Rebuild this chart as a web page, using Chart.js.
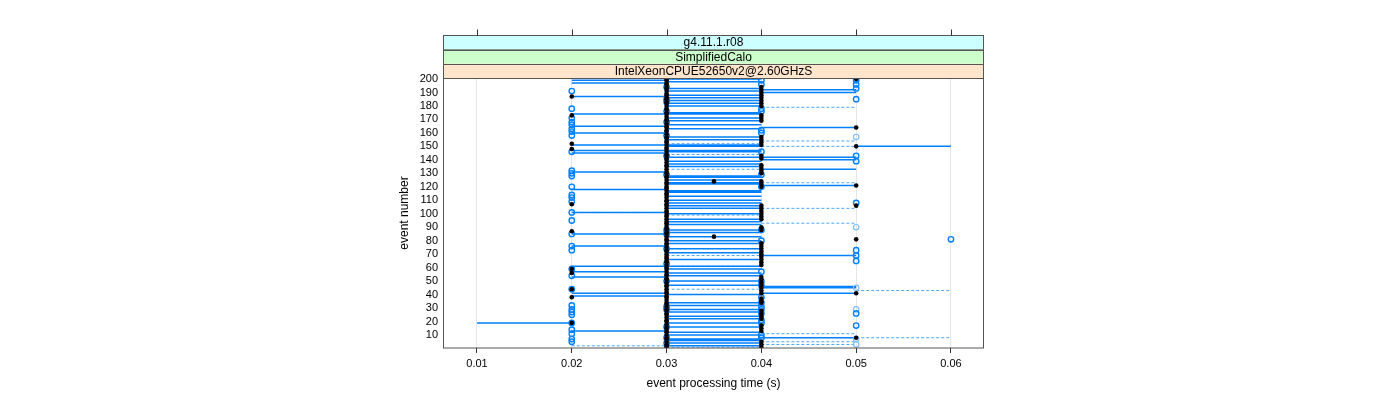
<!DOCTYPE html>
<html><head><meta charset="utf-8">
<script src="https://cdn.jsdelivr.net/npm/chart.js@4.4.1/dist/chart.umd.min.js"></script>
<style>html,body{margin:0;padding:0;background:#fff}canvas{display:block}</style>
</head><body>
<canvas id="c" width="1400" height="400"></canvas>
<script>
// ---- labels ----
const stripLabels = ["g4.11.1.r08", "SimplifiedCalo", "IntelXeonCPUE52650v2@2.60GHzS"];
const xTickValues = [0.01, 0.02, 0.03, 0.04, 0.05, 0.06];
const yTickValues = [10, 20, 30, 40, 50, 60, 70, 80, 90, 100, 110, 120, 130, 140, 150, 160, 170, 180, 190, 200];
const xTitle = "event processing time (s)";
const yTitle = "event number";

// ---- solid horizontal ranges (event numbers per time span) ----
const solid_01_02 = [19];
const solid_02_03 = [199, 197, 187, 174, 165, 160, 151, 147, 145, 131, 118, 101, 85, 76, 61, 57, 53, 41, 39, 13];
const solid_03_04 = [200, 198, 193, 191, 188, 186, 184, 182, 180, 175, 174, 171, 169, 166, 163, 157, 155, 151, 150, 147, 146, 142, 139, 137, 135, 128, 127, 125, 123, 122, 117, 116, 113, 110, 108, 106, 104, 100, 96, 94, 92, 88, 86, 83, 80, 78, 74, 71, 66, 61, 59, 56, 54, 50, 47, 40, 34, 32, 29, 27, 24, 22, 19, 16, 12, 10, 7, 6, 4, 2];
const solid_04_05 = [192, 190, 164, 142, 140, 133, 121, 69, 46, 45, 41, 8];
const solid_05_06 = [150];

// ---- dashed horizontal ranges ----
const dashed_02_03 = [101, 2];
const dashed_03_04 = [200, 152, 144, 133, 99, 69, 61, 44, 1];
const dashed_04_05 = [179, 154, 150, 123, 104, 93, 69, 11, 5, 3];
const dashed_05_06 = [43, 8];

// ---- open circles (event numbers per time) ----
const circ_02 = [191, 178, 171, 168, 166, 163, 161, 158, 146, 132, 130, 128, 120, 114, 112, 109, 101, 95, 85, 76, 73, 59, 54, 44, 32, 29, 27, 25, 19, 14, 11, 7, 5];
const circ_03 = [194, 185, 183, 176, 168, 158, 143, 129, 88, 85, 74, 63, 50, 31, 29, 16, 8, 4];
const circ_04 = [199, 196, 178, 176, 162, 160, 146, 129, 120, 88, 80, 57, 50, 47, 38, 34, 31, 29, 26, 21, 19, 10, 8];
const circ_05 = [199, 196, 193, 185, 143, 139, 108, 73, 69, 65, 26, 17];
const circ_06 = [81];
const lightCirc_05 = [157, 90, 45, 29, 7, 3];

// ---- black dots (event numbers per time) ----
const black_02 = [187, 173, 152, 148, 107, 87, 59, 56, 44, 38, 19];
const black_03 = [200, 199, 197, 196, 194, 193, 191, 189, 188, 186, 185, 183, 182, 180, 178, 177, 175, 174, 172, 170, 169, 167, 165, 164, 162, 161, 159, 157, 156, 154, 153, 151, 149, 148, 146, 144, 143, 141, 140, 138, 136, 135, 133, 131, 130, 128, 127, 125, 123, 122, 120, 119, 117, 115, 114, 112, 110, 109, 107, 106, 104, 102, 101, 99, 98, 96, 94, 93, 91, 89, 88, 86, 85, 83, 81, 80, 78, 77, 75, 73, 72, 70, 68, 67, 65, 64, 62, 60, 59, 57, 55, 54, 52, 51, 49, 47, 46, 44, 42, 41, 39, 38, 36, 34, 33, 31, 29, 28, 26, 25, 23, 21, 20, 18, 16, 15, 13, 12, 10, 8, 7, 5, 3, 2, 1];
const black_035 = [124, 83];
const black_04 = [194, 192, 190, 188, 186, 184, 182, 180, 173, 171, 169, 157, 155, 153, 151, 143, 141, 136, 134, 132, 130, 124, 122, 120, 106, 104, 102, 100, 98, 96, 90, 88, 78, 76, 74, 72, 70, 68, 66, 64, 62, 53, 51, 49, 47, 45, 43, 41, 37, 35, 34, 28, 26, 24, 22, 17, 15, 13, 5, 3, 1];
const black_05 = [200, 164, 150, 121, 106, 81, 41, 8];

// ---- builders ----
function segs(lo, hi, evs, out) {
  evs.forEach(e => { out.push({x: lo, y: e}, {x: hi, y: e}, {x: null, y: null}); });
  return out;
}
function pts(t, evs, out) { evs.forEach(e => out.push({x: t, y: e})); return out; }

const solidData = [];
segs(0.01, 0.02, solid_01_02, solidData);
segs(0.02, 0.03, solid_02_03, solidData);
segs(0.03, 0.04, solid_03_04, solidData);
segs(0.04, 0.05, solid_04_05, solidData);
segs(0.05, 0.06, solid_05_06, solidData);

const dashedData = [];
segs(0.02, 0.03, dashed_02_03, dashedData);
segs(0.03, 0.04, dashed_03_04, dashedData);
segs(0.04, 0.05, dashed_04_05, dashedData);
segs(0.05, 0.06, dashed_05_06, dashedData);

const circData = [];
pts(0.02, circ_02, circData); pts(0.03, circ_03, circData); pts(0.04, circ_04, circData);
pts(0.05, circ_05, circData); pts(0.06, circ_06, circData);
const lightCircData = pts(0.05, lightCirc_05, []);

const blackData = [];
pts(0.02, black_02, blackData); pts(0.03, black_03, blackData); pts(0.035, black_035, blackData);
pts(0.04, black_04, blackData); pts(0.05, black_05, blackData);

const FONT = '"Liberation Sans", Arial, Helvetica, sans-serif';
const BLUE = '#0080ff';

const latticePlugin = {
  id: 'lattice',
  afterDatasetsDraw(chart) {
    const {ctx, chartArea: {left, right, top, bottom}} = chart;
    ctx.save();
    ctx.strokeStyle = '#555';
    ctx.lineWidth = 1;
    ctx.strokeRect(Math.round(left) - 0.5, Math.round(top) + 0.5, Math.round(right - left) + 1, Math.round(bottom - top) - 0.5);
    ctx.restore();
  },
  afterDraw(chart) {
    const {ctx, chartArea: {left, right, top}} = chart;
    const xs = chart.scales.x;
    const colors = ['#ccffff', '#ccffcc', '#ffe5cc'];
    const h = 14.2;
    const y0 = top - 3 * h;
    ctx.save();
    for (let i = 0; i < 3; i++) {
      const yy = y0 + i * h;
      ctx.fillStyle = colors[i];
      ctx.fillRect(left, yy, right - left, h);
      ctx.strokeStyle = '#555';
      ctx.lineWidth = 1;
      ctx.strokeRect(Math.round(left) - 0.5, Math.round(yy) + 0.5, Math.round(right - left) + 1, Math.round(h));
      ctx.fillStyle = '#000';
      ctx.font = '12px ' + FONT;
      ctx.textAlign = 'center';
      ctx.textBaseline = 'middle';
      ctx.fillText(stripLabels[i], (left + right) / 2, yy + h / 2 + 0.5);
    }
    ctx.strokeStyle = '#333';
    xTickValues.forEach(v => {
      const px = Math.round(xs.getPixelForValue(v)) + 0.5;
      ctx.beginPath();
      ctx.moveTo(px, Math.round(y0) + 0.5);
      ctx.lineTo(px, Math.round(y0) - 5.5);
      ctx.stroke();
    });
    ctx.restore();
  }
};

new Chart(document.getElementById('c'), {
  type: 'scatter',
  data: {
    datasets: [
      { label: 'black', data: blackData, order: 0, showLine: false,
        pointRadius: 2.3, pointBackgroundColor: '#000', pointBorderColor: '#000', pointBorderWidth: 0 },
      { label: 'circles', data: circData, order: 1, showLine: false,
        pointRadius: 2.7, pointBackgroundColor: 'rgba(0,0,0,0)', pointBorderColor: BLUE, pointBorderWidth: 1.4 },
      { label: 'lightCircles', data: lightCircData, order: 2, showLine: false,
        pointRadius: 2.7, pointBackgroundColor: 'rgba(0,0,0,0)', pointBorderColor: '#80bfff', pointBorderWidth: 1.2 },
      { label: 'solid', data: solidData, order: 3, showLine: true, spanGaps: false,
        pointRadius: 0, borderColor: BLUE, borderWidth: 1.5, fill: false },
      { label: 'dashed', data: dashedData, order: 4, showLine: true, spanGaps: false,
        pointRadius: 0, borderColor: '#4da6ff', borderWidth: 1, borderDash: [3, 2], fill: false }
    ]
  },
  options: {
    responsive: false,
    animation: false,
    events: [],
    layout: { padding: { left: 397, right: 417, top: 78, bottom: 6 } },
    plugins: { legend: { display: false }, tooltip: { enabled: false } },
    scales: {
      x: {
        type: 'linear', min: 0.00652, max: 0.06338,
        afterBuildTicks: s => { s.ticks = xTickValues.map(v => ({value: v})); },
        afterFit: s => { s.height = 46; },
        grid: { color: '#e6e6e6', lineWidth: 1, tickColor: '#333', tickLength: 5, drawOnChartArea: true },
        border: { display: false },
        ticks: { color: '#000', font: { family: FONT, size: 11 }, padding: 4, maxRotation: 0, autoSkip: false,
                 callback: v => v.toFixed(2) },
        title: { display: true, text: xTitle, color: '#000', font: { family: FONT, size: 12 }, padding: { top: 0, bottom: 3 } }
      },
      y: {
        type: 'linear', min: 0.37, max: 200.74,
        afterBuildTicks: s => { s.ticks = yTickValues.map(v => ({value: v})); },
        afterFit: s => { s.width = 47; },
        grid: { display: false, drawTicks: false },
        border: { display: false },
        ticks: { color: '#000', font: { family: FONT, size: 11 }, padding: 6, autoSkip: false, callback: v => String(v) },
        title: { display: true, text: yTitle, color: '#000', font: { family: FONT, size: 12 }, padding: { top: 0, bottom: 0 } }
      }
    }
  },
  plugins: [latticePlugin]
});
</script>
</body></html>
